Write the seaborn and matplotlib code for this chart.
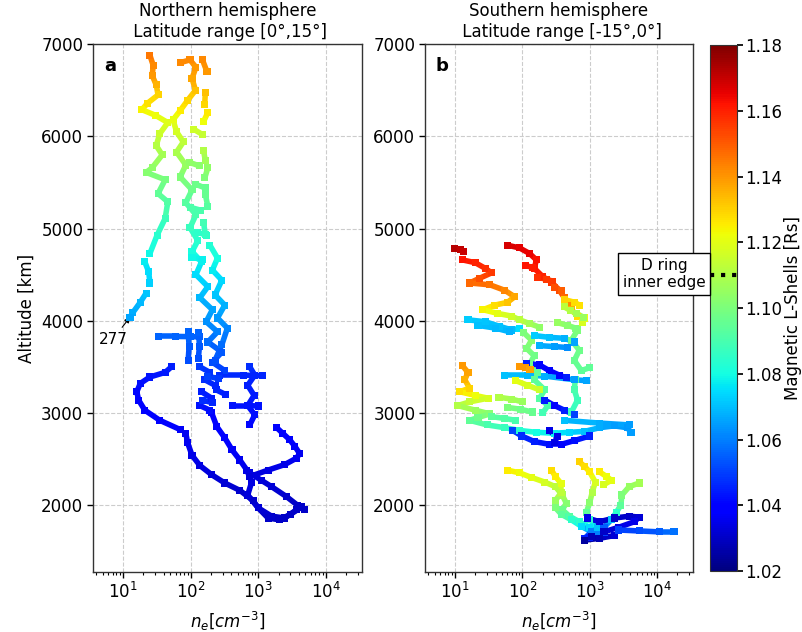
import numpy as np
import pandas as pd
import matplotlib
matplotlib.use("Agg")
import matplotlib.pyplot as plt
import seaborn as sns
from matplotlib.collections import LineCollection
from matplotlib.colors import Normalize
from matplotlib.cm import ScalarMappable

nan = np.nan

# ---------------- Panel a : Northern hemisphere ----------------
a1_ne = [25, 28, 27, 31, 33, 23, 19, 30, 46, 35, 31, 38, 27, 22, 42, 33, 46, 42, 32, 25, nan, 21, 24, 25, nan, 22, 18, 14, 12.7]
a1_alt = [6880, 6770, 6660, 6560, 6450, 6360, 6290, 6230, 6150, 6030, 5900, 5800, 5660, 5610, 5530, 5380, 5290, 5110, 4930, 4730, nan, 4640, 4530, 4410, nan, 4300, 4200, 4090, 4040]
a1_L = [1.145, 1.142, 1.14, 1.135, 1.13, 1.127, 1.124, 1.122, 1.119, 1.115, 1.111, 1.108, 1.104, 1.102, 1.099, 1.095, 1.092, 1.088, 1.084, 1.079, nan, 1.077, 1.075, 1.073, nan, 1.071, 1.069, 1.067, 1.066]

a2_ne = [70, 98, 120, 105, 118, 90, 70, 55, 62, 78, 62, 85, 70, 105, 85, 120, 98, 128, 105, 145, 120, 180, 137, 210, 170, 250, 180, 290, 210, 320]
a2_alt = [6800, 6830, 6750, 6630, 6500, 6390, 6280, 6180, 6050, 5940, 5830, 5690, 5560, 5420, 5280, 5150, 5010, 4870, 4750, 4640, 4500, 4370, 4250, 4120, 3990, 3880, 3770, 3660, 3550, 3460]
a2_L = [1.142, 1.142, 1.14, 1.137, 1.133, 1.129, 1.125, 1.121, 1.117, 1.113, 1.109, 1.105, 1.101, 1.097, 1.093, 1.09, 1.087, 1.084, 1.081, 1.078, 1.075, 1.072, 1.069, 1.066, 1.063, 1.06, 1.057, 1.054, 1.052, 1.05]

a2b_ne = [193, 250, 210, 290, 230, 320, 250, 350, 290, 230]
a2b_alt = [4820, 4680, 4550, 4440, 4280, 4170, 4030, 3920, 3740, 3570]
a2b_L = [1.083, 1.08, 1.077, 1.074, 1.071, 1.068, 1.064, 1.061, 1.057, 1.053]

a2c_ne = [110, 150, nan, 95, 135, nan, 120, 165, nan, 100, 140, nan, 125, 170, nan, 105, 150]
a2c_alt = [6080, 6020, nan, 5720, 5680, nan, 5480, 5440, nan, 5230, 5200, nan, 4960, 4930, nan, 4690, 4660]
a2c_L = [1.116, 1.114, nan, 1.104, 1.103, nan, 1.097, 1.096, nan, 1.091, 1.09, nan, 1.085, 1.084, nan, 1.079, 1.078]

a3_ne = [150, 175, nan, 165, 162, nan, 180, 155, nan, 155, 165, nan, 180, 162, nan, 165, 180, nan, 155, 165]
a3_alt = [6830, 6700, nan, 6480, 6350, nan, 6260, 6160, nan, 5850, 5740, nan, 5660, 5550, nan, 5370, 5240, nan, 5070, 4940]
a3_L = [1.142, 1.14, nan, 1.133, 1.129, nan, 1.126, 1.122, nan, 1.11, 1.107, nan, 1.104, 1.101, nan, 1.096, 1.093, nan, 1.089, 1.086]

a4_ne = [33, 60, 100, 137]
a4_alt = [3830, 3830, 3828, 3825]
a4_L = [1.056, 1.056, 1.056, 1.055]

a5_ne = [92, 95, 92, nan, 132, 135, 130]
a5_alt = [3880, 3720, 3570, nan, 3870, 3720, 3590]
a5_L = [1.056, 1.054, 1.052, nan, 1.056, 1.054, 1.052]

a6_ne = [52, 42, 25, 18, 16, 17, 21, 35, 70, nan, 85, 90, 105, 137, 205, 320, 535, 840, 1000, 1400, 2080, 3000, 4400]
a6_alt = [3500, 3440, 3390, 3320, 3230, 3140, 3030, 2920, 2820, nan, 2780, 2680, 2540, 2430, 2330, 2240, 2160, 2050, 1970, 1860, 1840, 1900, 1980]
a6_L = [1.045, 1.044, 1.043, 1.042, 1.041, 1.04, 1.039, 1.038, 1.037, nan, 1.036, 1.036, 1.035, 1.034, 1.033, 1.032, 1.031, 1.031, 1.03, 1.03, 1.03, 1.03, 1.03]

a7_ne = [205, 245, 320, 410, 535, 680, 800, 700, 1000, 1580, 2470, 3700]
a7_alt = [3000, 2850, 2730, 2600, 2490, 2380, 2250, 2110, 1970, 1880, 1860, 1950]
a7_L = [1.04, 1.039, 1.038, 1.037, 1.036, 1.035, 1.034, 1.033, 1.032, 1.031, 1.03, 1.03]

a8_ne = [750, 1110, 1580, 2650, 3800, 4870]
a8_alt = [2350, 2270, 2200, 2090, 2000, 1950]
a8_L = [1.034, 1.033, 1.032, 1.031, 1.03, 1.03]

a9_ne = [1880, 2300, 2920, 3470, 4100, 3700, 2470, 1400, 750]
a9_alt = [2840, 2780, 2710, 2640, 2560, 2510, 2440, 2380, 2310]
a9_L = [1.04, 1.039, 1.038, 1.037, 1.036, 1.036, 1.035, 1.034, 1.033]

a10_ne = [750, 890, 700, 870, 700, 890, 750]
a10_alt = [3500, 3410, 3300, 3190, 3080, 2980, 2870]
a10_L = [1.047, 1.046, 1.045, 1.044, 1.043, 1.042, 1.041]

a11_ne = [270, 600, 1170, nan, 420, 700, 1000]
a11_alt = [3410, 3410, 3405, nan, 3080, 3080, 3075]
a11_L = [1.047, 1.046, 1.046, nan, 1.043, 1.043, 1.043]

a12_ne = [137, 193, nan, 162, 230, nan, 145, 205, nan, 137, 193, nan, 240, 330, nan, 180, 260, nan, 150, 210]
a12_alt = [3500, 3440, nan, 3360, 3300, nan, 3230, 3160, nan, 3080, 3030, nan, 3250, 3200, nan, 3400, 3370, nan, 3140, 3110]
a12_L = [1.049, 1.048, nan, 1.047, 1.046, nan, 1.045, 1.044, nan, 1.043, 1.042, nan, 1.046, 1.045, nan, 1.05, 1.049, nan, 1.047, 1.046]

# ---------------- Panel b : Southern hemisphere ----------------
b1_ne = [10, 12, 13.5]
b1_alt = [4780, 4770, 4750]
b1_L = [1.172, 1.171, 1.17]

b2_ne = [60, 91, 128, 162, 150, 200, 271, 355, 420, 470, 535, 660, 840, 780]
b2_alt = [4820, 4790, 4730, 4660, 4570, 4480, 4420, 4330, 4250, 4170, 4120, 4050, 4030, 3980]
b2_L = [1.168, 1.166, 1.165, 1.163, 1.162, 1.16, 1.157, 1.153, 1.148, 1.142, 1.135, 1.128, 1.122, 1.118]

b2b_ne = [110, 140, nan, 170, 230, 280, nan, 300, 380, nan, 420, 600, 700]
b2b_alt = [4600, 4580, nan, 4470, 4450, 4430, nan, 4360, 4330, nan, 4230, 4200, 4170]
b2b_L = [1.162, 1.161, nan, 1.158, 1.156, 1.156, nan, 1.152, 1.15, nan, 1.13, 1.128, 1.127]

b3_ne = [13, 20, 28, 35, 23, 16.5, 33, 55, 77, 60, 39, 26, 43, 70, 91, 128, 180]
b3_alt = [4660, 4630, 4570, 4520, 4460, 4410, 4390, 4330, 4260, 4200, 4170, 4120, 4080, 4050, 4010, 3970, 3930]
b3_L = [1.162, 1.16, 1.158, 1.156, 1.152, 1.148, 1.146, 1.143, 1.137, 1.132, 1.128, 1.124, 1.12, 1.116, 1.112, 1.108, 1.104]

b4_ne = [15.6, 28, 46, 70, 91, nan, 22, 40, 65]
b4_alt = [4010, 3990, 3940, 3900, 3920, nan, 3950, 3920, 3880]
b4_L = [1.072, 1.071, 1.07, 1.069, 1.075, nan, 1.07, 1.069, 1.068]

b5_ne = [105, 137, 116, 150, 128, 168, 150, 215, 180, 240, 200]
b5_alt = [3870, 3790, 3700, 3620, 3530, 3440, 3360, 3250, 3160, 3080, 3000]
b5_L = [1.1, 1.102, 1.1, 1.098, 1.097, 1.095, 1.094, 1.093, 1.092, 1.09, 1.089]

b6_ne = [660, 535, 700, 590, 750, 990, nan, 610, 590, 660, 535]
b6_alt = [3900, 3790, 3680, 3570, 3460, 3490, nan, 3360, 3250, 3140, 3010]
b6_L = [1.1, 1.098, 1.097, 1.096, 1.095, 1.095, nan, 1.093, 1.09, 1.088, 1.087]

b6b_ne = [420, 520, 640, 800, nan, 330, 470, 620]
b6b_alt = [4150, 4110, 4080, 4040, nan, 3980, 3950, 3920]
b6b_L = [1.112, 1.11, 1.108, 1.106, nan, 1.105, 1.103, 1.1]

b7_ne = [150, 250, 420, 590, nan, 180, 300, 470]
b7_alt = [3840, 3820, 3810, 3770, nan, 3730, 3720, 3710]
b7_L = [1.072, 1.07, 1.068, 1.066, nan, 1.068, 1.065, 1.062]

b8_ne = [116, 180, 250, 355, 450]
b8_alt = [3540, 3520, 3460, 3410, 3380]
b8_L = [1.045, 1.04, 1.038, 1.04, 1.045]

b8c_ne = [55, 120, 215, 590, 900]
b8c_alt = [3410, 3410, 3400, 3360, 3350]
b8c_L = [1.07, 1.069, 1.068, 1.065, 1.066]

b9_ne = [13, 15.6, 14, 16.5, 11.8, 20, 31, 16.5, 11, 20, 33, 22, 16.5, 30, 55, 91, 162, 300, 500, 840, 1400, 2300, 3600, 4100]
b9_alt = [3510, 3440, 3360, 3270, 3230, 3190, 3160, 3120, 3080, 3030, 2990, 2950, 2920, 2870, 2840, 2810, 2790, 2780, 2790, 2800, 2840, 2860, 2840, 2790]
b9_L = [1.14, 1.138, 1.135, 1.13, 1.127, 1.122, 1.118, 1.114, 1.11, 1.106, 1.102, 1.098, 1.095, 1.09, 1.087, 1.084, 1.08, 1.077, 1.074, 1.07, 1.067, 1.065, 1.064, 1.065]

b9b_ne = [420, 1400, 3900]
b9b_alt = [2920, 2890, 2870]
b9b_L = [1.07, 1.067, 1.065]

b9c_ne = [45, 70, 100, nan, 60, 95, 140, nan, 35, 55, 80]
b9c_alt = [3170, 3150, 3120, nan, 3060, 3040, 3010, nan, 2960, 2940, 2920]
b9c_L = [1.11, 1.108, 1.106, nan, 1.1, 1.098, 1.096, nan, 1.094, 1.092, 1.09]

b10_ne = [72, 98, 150, 250, 380, 590, 1000]
b10_alt = [2810, 2750, 2690, 2660, 2660, 2700, 2750]
b10_L = [1.05, 1.047, 1.045, 1.042, 1.04, 1.042, 1.045]

b10b_ne = [250, 330, 300]
b10b_alt = [2810, 2740, 2680]
b10b_L = [1.035, 1.035, 1.035]

b11_ne = [215, 300, 420, 590]
b11_alt = [3140, 3080, 3030, 2980]
b11_L = [1.045, 1.04, 1.045, 1.05]

b11o_ne = [91, 110, 130]
b11o_alt = [3500, 3490, 3470]
b11o_L = [1.14, 1.14, 1.138]

b11y_ne = [80, 120, 180]
b11y_alt = [3350, 3300, 3250]
b11y_L = [1.12, 1.118, 1.115]

b12_ne = [60, 91, 137, 215, 310, 390, 450, 390, 500, 700, 1000, 1250, 1000]
b12_alt = [2380, 2350, 2300, 2250, 2200, 2110, 2020, 1950, 1880, 1820, 1760, 1710, 1650]
b12_L = [1.125, 1.123, 1.12, 1.117, 1.113, 1.108, 1.102, 1.097, 1.092, 1.085, 1.075, 1.06, 1.045]

b13_ne = [271, 310, 380, 380, 310, 310, 380, 535, 750, 1060, 840]
b13_alt = [2380, 2310, 2230, 2140, 2050, 1970, 1900, 1840, 1770, 1710, 1640]
b13_L = [1.128, 1.125, 1.12, 1.113, 1.106, 1.1, 1.094, 1.085, 1.075, 1.06, 1.045]

b14_ne = [700, 840, 1000, 1210, 1090, 1000, 890, 1000, 1300, 1630]
b14_alt = [2470, 2420, 2360, 2250, 2140, 2030, 1920, 1840, 1760, 1700]
b14_L = [1.13, 1.128, 1.125, 1.118, 1.11, 1.103, 1.095, 1.085, 1.07, 1.05]

b15_ne = [1400, 1780, 2100, 1600]
b15_alt = [2360, 2310, 2270, 2220]
b15_L = [1.125, 1.122, 1.12, 1.118]

b16_ne = [5400, 3850, 3000, 2900, 2470, 2080, 1630]
b16_alt = [2240, 2200, 2110, 2000, 1920, 1840, 1760]
b16_L = [1.108, 1.105, 1.1, 1.094, 1.085, 1.07, 1.055]

b17_ne = [920, 1400, 2300, 3900, 5400, 4600, 2700, 1630, 1060, 840, 1400, 2300]
b17_alt = [1860, 1820, 1860, 1880, 1870, 1820, 1760, 1710, 1660, 1620, 1640, 1670]
b17_L = [1.035, 1.032, 1.03, 1.03, 1.032, 1.035, 1.035, 1.03, 1.028, 1.025, 1.028, 1.032]

b18_ne = [2700, 5400, 10700, 17800]
b18_alt = [1730, 1720, 1710, 1710]
b18_L = [1.05, 1.052, 1.055, 1.058]

tracks_a = [(a1_ne, a1_alt, a1_L), (a2_ne, a2_alt, a2_L), (a2b_ne, a2b_alt, a2b_L),
            (a2c_ne, a2c_alt, a2c_L),
            (a3_ne, a3_alt, a3_L), (a4_ne, a4_alt, a4_L), (a5_ne, a5_alt, a5_L),
            (a6_ne, a6_alt, a6_L), (a7_ne, a7_alt, a7_L), (a8_ne, a8_alt, a8_L),
            (a9_ne, a9_alt, a9_L), (a10_ne, a10_alt, a10_L), (a11_ne, a11_alt, a11_L),
            (a12_ne, a12_alt, a12_L)]
tracks_b = [(b1_ne, b1_alt, b1_L), (b2_ne, b2_alt, b2_L), (b2b_ne, b2b_alt, b2b_L),
            (b3_ne, b3_alt, b3_L),
            (b4_ne, b4_alt, b4_L), (b5_ne, b5_alt, b5_L), (b6_ne, b6_alt, b6_L),
            (b6b_ne, b6b_alt, b6b_L),
            (b7_ne, b7_alt, b7_L), (b8_ne, b8_alt, b8_L), (b8c_ne, b8c_alt, b8c_L),
            (b9_ne, b9_alt, b9_L), (b9b_ne, b9b_alt, b9b_L), (b9c_ne, b9c_alt, b9c_L),
            (b10_ne, b10_alt, b10_L),
            (b10b_ne, b10b_alt, b10b_L), (b11_ne, b11_alt, b11_L), (b11o_ne, b11o_alt, b11o_L),
            (b11y_ne, b11y_alt, b11y_L), (b12_ne, b12_alt, b12_L), (b13_ne, b13_alt, b13_L),
            (b14_ne, b14_alt, b14_L), (b15_ne, b15_alt, b15_L), (b16_ne, b16_alt, b16_L),
            (b17_ne, b17_alt, b17_L), (b18_ne, b18_alt, b18_L)]

L_MIN, L_MAX = 1.02, 1.18
D_RING_L = 1.11

sns.set_theme(style="ticks")
plt.rcParams["font.family"] = ["DejaVu Sans"]
plt.rcParams.update({
    "axes.edgecolor": "0.2",
    "text.color": "black",
    "axes.labelcolor": "black",
    "xtick.color": "black",
    "ytick.color": "black",
})

fig = plt.figure(figsize=(8.02, 6.32), dpi=100)
axA = fig.add_axes([0.116, 0.095, 0.335, 0.835])
axB = fig.add_axes([0.530, 0.095, 0.334, 0.835])
cax = fig.add_axes([0.885, 0.0965, 0.034, 0.832])

norm = Normalize(L_MIN, L_MAX)
cmap = plt.get_cmap("jet")


def draw(ax, tracks):
    ax.set_xscale("log")
    rows = []
    for ne, alt, L in tracks:
        ne = np.asarray(ne, float)
        alt = np.asarray(alt, float)
        L = np.asarray(L, float)
        segs, cols = [], []
        for i in range(len(ne) - 1):
            if np.isnan(ne[i]) or np.isnan(ne[i + 1]):
                continue
            segs.append([(ne[i], alt[i]), (ne[i + 1], alt[i + 1])])
            cols.append(0.5 * (L[i] + L[i + 1]))
        if segs:
            lc = LineCollection(segs, cmap=cmap, norm=norm, linewidths=4.0,
                                capstyle="round", joinstyle="round", zorder=3)
            lc.set_array(np.array(cols))
            ax.add_collection(lc)
        for x, y, l in zip(ne, alt, L):
            if not np.isnan(x):
                rows.append({"ne": x, "alt": y, "L": l})
    df = pd.DataFrame(rows)
    sns.scatterplot(data=df, x="ne", y="alt", hue="L", palette=cmap,
                    hue_norm=norm, marker="s", s=26, linewidth=0,
                    legend=False, ax=ax, zorder=4)


for ax, tracks, title, letter in [
    (axA, tracks_a, "Northern hemisphere\n Latitude range [0°,15°]", "a"),
    (axB, tracks_b, "Southern hemisphere\n Latitude range [-15°,0°]", "b"),
]:
    draw(ax, tracks)
    ax.set_xlim(3.6, 3.4e4)
    ax.set_ylim(1275, 7000)
    ax.set_yticks([2000, 3000, 4000, 5000, 6000, 7000])
    ax.grid(True, which="major", linestyle="--", color="0.8", linewidth=0.8)
    ax.set_axisbelow(True)
    ax.tick_params(axis="both", which="major", labelsize=12, length=4, width=1, pad=3)
    ax.tick_params(axis="x", which="minor", length=2.5, width=0.8)
    ax.set_xlabel(r"$n_e[cm^{-3}]$", fontsize=12, labelpad=6)
    ax.set_ylabel("")
    ax.set_title(title, fontsize=12, pad=5)
    ax.text(0.04, 0.975, letter, transform=ax.transAxes, fontsize=13,
            fontweight="bold", va="top", ha="left")
    for s in ax.spines.values():
        s.set_visible(True)
        s.set_linewidth(1)

axA.set_ylabel("Altitude [km]", fontsize=12, labelpad=4)
axA.annotate("277", xy=(12.7, 4040), xytext=(7.1, 3800), fontsize=11,
             ha="center", va="center",
             arrowprops=dict(arrowstyle="-|>", color="black", lw=0.8,
                             mutation_scale=8, shrinkA=1, shrinkB=0))

cb = fig.colorbar(ScalarMappable(norm=norm, cmap=cmap), cax=cax,
                  ticks=np.arange(1.02, 1.181, 0.02), format="%.2f")
cb.ax.tick_params(labelsize=12, length=4, pad=2)
cb.set_label("Magnetic L-Shells [Rs]", fontsize=12, labelpad=1)
cb.outline.set_linewidth(0.8)
cax.axhline(D_RING_L, color="black", linestyle=":", linewidth=3)

fig.text(664 / 802, 1 - 274 / 632, "D ring\ninner edge", fontsize=11,
         ha="center", va="center",
         bbox=dict(boxstyle="square,pad=0.3", fc="white", ec="black", lw=1))

fig.savefig("out.png", dpi=100)
